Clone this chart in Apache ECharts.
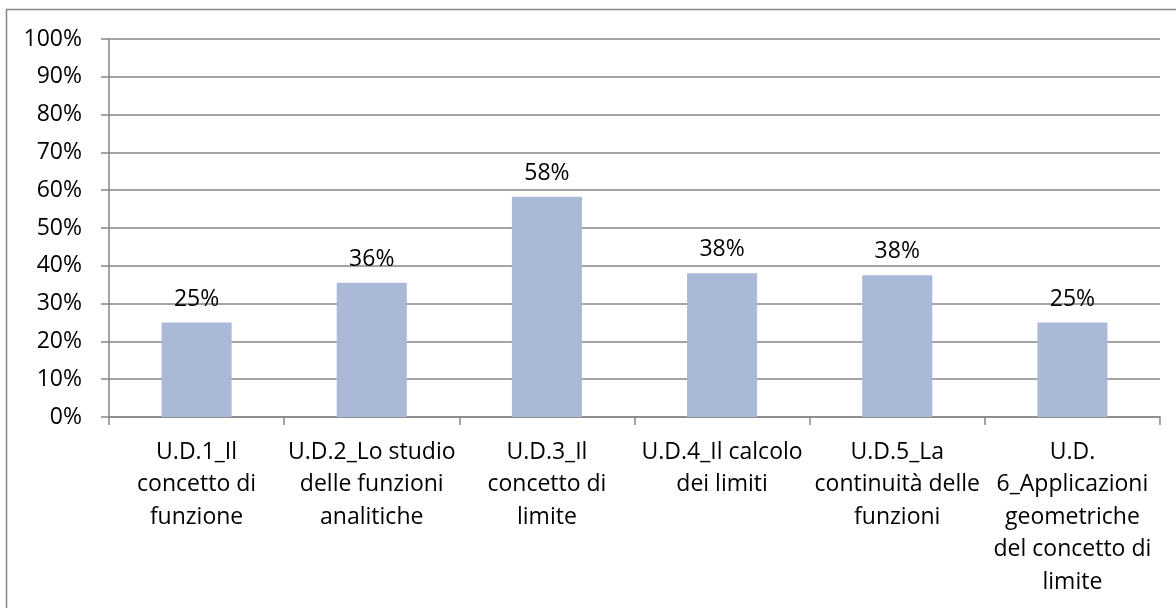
<!DOCTYPE html>
<html>
<head>
<meta charset="utf-8">
<script src="https://cdn.jsdelivr.net/npm/echarts@6/dist/echarts.min.js"></script>
<style>
  html, body { margin: 0; padding: 0; background: #ffffff; }
  #chart { width: 1176px; height: 608px; }
</style>
</head>
<body>
<div id="chart"></div>
<script>
// Teaching units (wrapped as they appear under the axis)
const categories = [
  'U.D.1_Il\nconcetto di\nfunzione',
  'U.D.2_Lo studio\ndelle funzioni\nanalitiche',
  'U.D.3_Il\nconcetto di\nlimite',
  'U.D.4_Il calcolo\ndei limiti',
  'U.D.5_La\ncontinuità delle\nfunzioni',
  'U.D.\n6_Applicazioni\ngeometriche\ndel concetto di\nlimite'
];
// Share per unit (fraction of 1)
const values = [0.25, 0.355, 0.583, 0.38, 0.375, 0.25];
// Value axis ticks
const yMin = 0;
const yMax = 1;
const yStep = 0.1;

const FONT = 'Open Sans';
const GRAY = '#868686';
const pct = v => Math.round(v * 100) + '%';

const chart = echarts.init(document.getElementById('chart'), null, { renderer: 'canvas' });
chart.setOption({
  animation: false,
  backgroundColor: '#ffffff',
  textStyle: { fontFamily: FONT },
  graphic: [{
    type: 'rect',
    shape: { x: 6.5, y: 9.5, width: 1300, height: 800 },
    style: { fill: 'none', stroke: GRAY, lineWidth: 1.5 },
    silent: true,
    z: -1
  }],
  grid: { left: 109, right: 16, top: 39, bottom: 191, containLabel: false },
  xAxis: {
    type: 'category',
    data: categories,
    boundaryGap: true,
    axisLine: { show: true, lineStyle: { color: GRAY, width: 1.5 } },
    axisTick: { show: true, alignWithLabel: false, length: 8, lineStyle: { color: GRAY, width: 1.5 } },
    axisLabel: {
      interval: 0,
      margin: 19,
      color: '#000000',
      fontFamily: FONT,
      fontSize: 23,
      lineHeight: 32.5,
      align: 'center'
    }
  },
  yAxis: {
    type: 'value',
    min: yMin,
    max: yMax,
    interval: yStep,
    axisLine: { show: true, lineStyle: { color: GRAY, width: 1.5 } },
    axisTick: { show: true, inside: false, length: 8, lineStyle: { color: GRAY, width: 1.5 } },
    splitLine: { show: true, lineStyle: { color: GRAY, width: 1.5 } },
    axisLabel: {
      margin: 27,
      color: '#000000',
      fontFamily: FONT,
      fontSize: 23,
      formatter: v => pct(v)
    }
  },
  series: [{
    type: 'bar',
    data: values,
    barWidth: '40%',
    itemStyle: { color: '#AAB9D7' },
    label: {
      show: true,
      position: 'top',
      distance: 12,
      color: '#000000',
      fontFamily: FONT,
      fontSize: 23,
      formatter: p => pct(p.value)
    }
  }]
});
</script>
</body>
</html>
